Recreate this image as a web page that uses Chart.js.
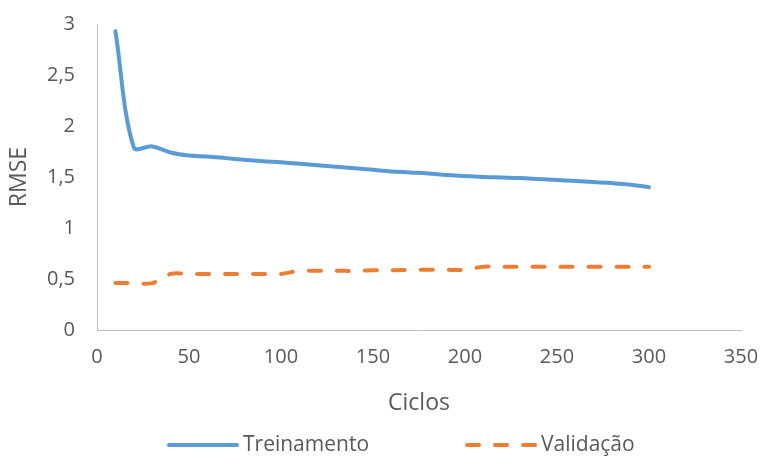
<!DOCTYPE html>
<html>
<head>
<meta charset="utf-8">
<script src="https://cdn.jsdelivr.net/npm/chart.js@4/dist/chart.umd.min.js"></script>
<style>
  html, body { margin: 0; padding: 0; background: #fff; }
  #wrap { width: 763px; height: 456px; position: relative; }
</style>
</head>
<body>
<div id="wrap"><canvas id="c" width="763" height="456"></canvas></div>
<script>
// Training cycles (x) and RMSE for each series
const cycles = [10, 20, 30, 40, 50, 60, 70, 80, 90, 100, 110, 120, 130, 140, 150,
                160, 170, 180, 190, 200, 210, 220, 230, 240, 250, 260, 270, 280, 290, 300];
const treinamento = [2.93, 1.79, 1.80, 1.74, 1.71, 1.70, 1.685, 1.67, 1.655, 1.645, 1.63, 1.615, 1.60, 1.585, 1.57,
                     1.555, 1.545, 1.535, 1.52, 1.51, 1.50, 1.495, 1.49, 1.48, 1.47, 1.46, 1.45, 1.44, 1.425, 1.40];
const validacao = [0.46, 0.46, 0.46, 0.55, 0.55, 0.55, 0.55, 0.55, 0.55, 0.55, 0.58, 0.58, 0.58, 0.58, 0.585,
                   0.585, 0.59, 0.59, 0.59, 0.59, 0.62, 0.62, 0.62, 0.62, 0.62, 0.62, 0.62, 0.62, 0.62, 0.62];
const seriesNames = ['Treinamento', 'Validação'];
const xTicks = [0, 50, 100, 150, 200, 250, 300, 350];
const yTicks = [0, 0.5, 1, 1.5, 2, 2.5, 3];

const BLUE = '#5B9BD5';
const ORANGE = '#ED7D31';
const TEXT = '#595959';
const AXIS = '#BFBFBF';
const FONT = "'Open Sans', 'Noto Sans', sans-serif";

const toPoints = (ys) => cycles.map((x, i) => ({ x, y: ys[i] }));
const fmt = (v) => String(v).replace('.', ',');

// Legend drawn under the plot: line sample followed by its label
const bottomLegend = {
  id: 'bottomLegend',
  afterDraw(chart) {
    const ctx = chart.ctx;
    const y = 445;
    const items = [
      { ds: chart.data.datasets[0], x: 167 },
      { ds: chart.data.datasets[1], x: 465 }
    ];
    ctx.save();
    ctx.font = "21px " + FONT;
    ctx.textBaseline = 'middle';
    ctx.textAlign = 'left';
    items.forEach(({ ds, x }) => {
      ctx.beginPath();
      ctx.strokeStyle = ds.borderColor;
      ctx.lineWidth = ds.borderWidth;
      ctx.lineCap = ds.borderCapStyle || 'butt';
      ctx.setLineDash(ds.borderDash || []);
      ctx.moveTo(x + 2, y);
      ctx.lineTo(x + 70, y);
      ctx.stroke();
      ctx.setLineDash([]);
      ctx.fillStyle = TEXT;
      ctx.fillText(ds.label, x + 76, y);
    });
    ctx.restore();
  }
};

new Chart(document.getElementById('c'), {
  type: 'line',
  data: {
    datasets: [
      {
        label: seriesNames[0],
        data: toPoints(treinamento),
        borderColor: BLUE,
        backgroundColor: BLUE,
        borderWidth: 4,
        borderCapStyle: 'round',
        borderJoinStyle: 'round',
        pointRadius: 0,
        tension: 0.35,
        fill: false
      },
      {
        label: seriesNames[1],
        data: toPoints(validacao),
        borderColor: ORANGE,
        backgroundColor: ORANGE,
        borderWidth: 4,
        borderDash: [12, 16],
        borderCapStyle: 'round',
        borderJoinStyle: 'round',
        pointRadius: 0,
        tension: 0.35,
        fill: false
      }
    ]
  },
  options: {
    responsive: false,
    animation: false,
    devicePixelRatio: 1,
    layout: { padding: { left: 0, right: 22, top: 24, bottom: 36 } },
    plugins: {
      legend: { display: false },
      tooltip: { enabled: false }
    },
    scales: {
      x: {
        type: 'linear',
        min: 0,
        max: 350,
        afterFit: (s) => { s.height = 90; s.paddingLeft = 0; s.paddingRight = 0; },
        afterBuildTicks: (s) => { s.ticks = xTicks.map(v => ({ value: v })); },
        grid: { display: false, drawTicks: false },
        border: { display: true, color: AXIS, width: 1 },
        ticks: { color: TEXT, font: { family: FONT, size: 20 }, padding: 15, maxRotation: 0 },
        title: { display: true, text: 'Ciclos', color: TEXT, font: { family: FONT, size: 23 }, padding: { top: 0, bottom: 3 } }
      },
      y: {
        min: 0,
        max: 3,
        afterFit: (s) => { s.width = 97; s.paddingTop = 0; s.paddingBottom = 0; },
        afterBuildTicks: (s) => { s.ticks = yTicks.map(v => ({ value: v })); },
        grid: { display: false, drawTicks: false },
        border: { display: true, color: AXIS, width: 1 },
        ticks: { color: TEXT, font: { family: FONT, size: 20 }, padding: 22, callback: (v) => fmt(v) },
        title: { display: true, text: 'RMSE', color: TEXT, font: { family: FONT, size: 23 }, padding: { top: 6, bottom: 0 } }
      }
    }
  },
  plugins: [bottomLegend]
});
</script>
</body>
</html>
